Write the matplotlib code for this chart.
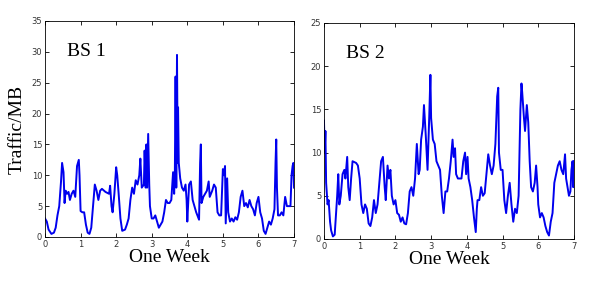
import matplotlib
matplotlib.use("Agg")
import matplotlib.pyplot as plt

# BS 1 traffic (days, MB)
t1 = [0, 0.05, 0.1, 0.18, 0.25, 0.3, 0.35, 0.4, 0.45, 0.48, 0.52, 0.55, 0.58, 0.62, 0.66, 0.7,
      0.75, 0.8, 0.85, 0.9, 0.95, 0.97, 1.0, 1.05, 1.1, 1.15, 1.2, 1.25, 1.3, 1.35, 1.4, 1.45,
      1.5, 1.55, 1.6, 1.7, 1.8, 1.83, 1.87, 1.9, 1.95, 2.0, 2.03, 2.07, 2.12, 2.17, 2.25, 2.3,
      2.35, 2.4, 2.45, 2.5, 2.55, 2.6, 2.65, 2.68, 2.72, 2.78, 2.8, 2.83, 2.85, 2.87, 2.9, 2.93,
      2.95, 3.0, 3.05, 3.1, 3.15, 3.2, 3.25, 3.3, 3.35, 3.4, 3.45, 3.5, 3.55, 3.6, 3.63, 3.65,
      3.67, 3.69, 3.71, 3.73, 3.74, 3.76, 3.8, 3.85, 3.9, 3.95, 3.98, 4.0, 4.02, 4.05, 4.1, 4.15,
      4.2, 4.25, 4.33, 4.36, 4.38, 4.4, 4.45, 4.5, 4.55, 4.6, 4.63, 4.7, 4.75, 4.8, 4.85, 4.9,
      4.95, 5.0, 5.03, 5.06, 5.08, 5.12, 5.15, 5.2, 5.25, 5.3, 5.35, 5.4, 5.45, 5.5, 5.55, 5.6,
      5.65, 5.7, 5.75, 5.8, 5.85, 5.9, 5.95, 6.0, 6.05, 6.1, 6.15, 6.2, 6.25, 6.3, 6.35, 6.4,
      6.45, 6.48, 6.5, 6.52, 6.55, 6.6, 6.65, 6.7, 6.75, 6.8, 6.85, 6.9, 6.93, 6.96, 6.98, 7.0]
bs1 = [3, 2.5, 1.2, 0.5, 0.7, 1.5, 3.5, 5, 9, 12, 10.5, 5.5, 7.5, 7, 7.3, 6,
       7, 7.5, 6.5, 11.5, 12.5, 10, 4.2, 4, 4, 2, 0.7, 0.5, 1.5, 5, 8.5, 7.5,
       6, 7.5, 7.8, 7.3, 7, 8.3, 5, 4, 7, 11.3, 10, 7, 3, 1, 1.2, 2,
       3, 6, 8, 7, 9.2, 8.5, 10, 12.7, 8, 8.5, 14, 8, 15, 8, 16.7, 8.5,
       5, 3, 3, 3.5, 2.5, 1.5, 2, 2.5, 4, 6, 5.5, 5.5, 6, 10.5, 7, 10.5,
       26, 8, 29.5, 12, 21, 12, 9.5, 8, 7.5, 8.5, 6, 2.5, 5, 8.5, 9, 6,
       5, 4, 2.8, 12, 15, 5.5, 6.5, 7, 7.5, 9, 6.5, 7.5, 8.5, 8, 4, 3.5,
       3.5, 11, 10, 11.5, 2.2, 9.5, 4, 2.5, 3, 2.5, 3.2, 2.8, 4, 6.5, 7.5, 5,
       5.5, 4.8, 6, 5, 4.5, 3.5, 5.5, 6.5, 4, 3, 1, 0.5, 1.5, 2.5, 2, 3,
       4.5, 12, 15.8, 8, 3.5, 3.5, 4, 3.5, 6.5, 5, 5, 5, 10, 11.5, 12, 8]

# BS 2 traffic (days, MB)
t2 = [0, 0.02, 0.04, 0.06, 0.1, 0.13, 0.17, 0.2, 0.25, 0.3, 0.33, 0.37, 0.4, 0.43, 0.47, 0.52,
      0.57, 0.6, 0.65, 0.68, 0.72, 0.76, 0.8, 0.9, 0.95, 1.0, 1.05, 1.1, 1.15, 1.2, 1.25, 1.3,
      1.35, 1.4, 1.45, 1.5, 1.55, 1.6, 1.65, 1.7, 1.73, 1.78, 1.82, 1.86, 1.9, 1.95, 2.0, 2.05,
      2.1, 2.15, 2.2, 2.25, 2.3, 2.35, 2.4, 2.45, 2.5, 2.55, 2.6, 2.65, 2.68, 2.72, 2.77, 2.8,
      2.85, 2.9, 2.95, 2.98, 3.0, 3.05, 3.1, 3.15, 3.2, 3.25, 3.3, 3.35, 3.4, 3.45, 3.5, 3.55,
      3.6, 3.63, 3.67, 3.7, 3.75, 3.85, 3.9, 3.95, 3.98, 4.02, 4.05, 4.1, 4.15, 4.2, 4.25, 4.28,
      4.3, 4.35, 4.4, 4.45, 4.5, 4.55, 4.6, 4.65, 4.7, 4.75, 4.8, 4.85, 4.88, 4.9, 4.95, 5.0,
      5.05, 5.1, 5.15, 5.2, 5.25, 5.3, 5.35, 5.4, 5.45, 5.5, 5.53, 5.55, 5.6, 5.63, 5.68, 5.72,
      5.76, 5.8, 5.85, 5.9, 5.94, 5.98, 6.0, 6.05, 6.1, 6.15, 6.2, 6.25, 6.3, 6.35, 6.4, 6.45,
      6.5, 6.55, 6.6, 6.65, 6.7, 6.75, 6.78, 6.82, 6.86, 6.9, 6.93, 6.96, 6.98, 7.0]
bs2 = [13.7, 10, 12.5, 6.5, 4, 4.5, 2, 1, 0.3, 0.5, 2.5, 5, 7.5, 4, 5, 7.5,
       8, 7, 9.5, 6, 4.5, 7, 9, 8.8, 8.5, 7, 4, 3, 4, 3.5, 1.8, 1.5,
       2.5, 4.5, 3, 4, 6.5, 9, 9.5, 6, 4.5, 8.5, 7, 8, 5, 4, 4.5, 3,
       2.8, 2, 2.5, 1.8, 1.7, 3, 5.5, 6, 5, 7, 11, 7.5, 8, 11.5, 13, 15.5,
       12, 8, 14.5, 19, 14, 11.5, 11, 9, 8.5, 8, 5, 3, 5.5, 5.5, 7, 9,
       11.5, 9.5, 10.5, 7.5, 7, 7, 9, 10, 7.5, 9.5, 7, 6, 4.5, 2.5, 0.8, 3.5,
       4.5, 4.5, 6, 5, 5.3, 7.5, 9.8, 8.5, 7.5, 8.5, 11, 16.5, 17.5, 10, 8, 8,
       4.5, 3, 5, 6.5, 4, 2, 3.5, 3, 5, 15, 18, 17, 14, 12.5, 15.5, 13.5,
       9, 6, 5.5, 6.5, 8.5, 6, 4, 2.5, 3, 2.5, 1.5, 0.8, 0.4, 2, 3, 6.5,
       7.5, 8.5, 9, 8, 7.5, 9.8, 7, 6, 5, 5.5, 8, 9, 6, 9]

serif = "Liberation Serif"
fig = plt.figure(figsize=(6.05, 2.82), dpi=100)
ax1 = fig.add_axes([0.0744, 0.1596, 0.4116, 0.766])
ax2 = fig.add_axes([0.5355, 0.1525, 0.4132, 0.766])

for ax, t, y, ymax, name in [(ax1, t1, bs1, 35, "BS 1"), (ax2, t2, bs2, 25, "BS 2")]:
    ax.plot(t, y, color="#0000ee", lw=1.4)
    ax.set_xlim(0, 7)
    ax.set_ylim(0, ymax)
    ax.set_xticks(range(8))
    ax.set_yticks(range(0, ymax + 1, 5))
    ax.tick_params(direction="in", top=True, right=True, length=3, width=0.6,
                   labelsize=6, pad=2, labelcolor="#333333")
    for s in ax.spines.values():
        s.set_linewidth(0.6)
    ax.set_xlabel("One Week", family=serif, fontsize=14, labelpad=0)
    ax.text(0.09, 0.86, name, transform=ax.transAxes, family=serif, fontsize=14,
            va="center")

ax1.set_ylabel("Traffic/MB", family=serif, fontsize=14, labelpad=4)

fig.savefig("out.png", dpi=100)
